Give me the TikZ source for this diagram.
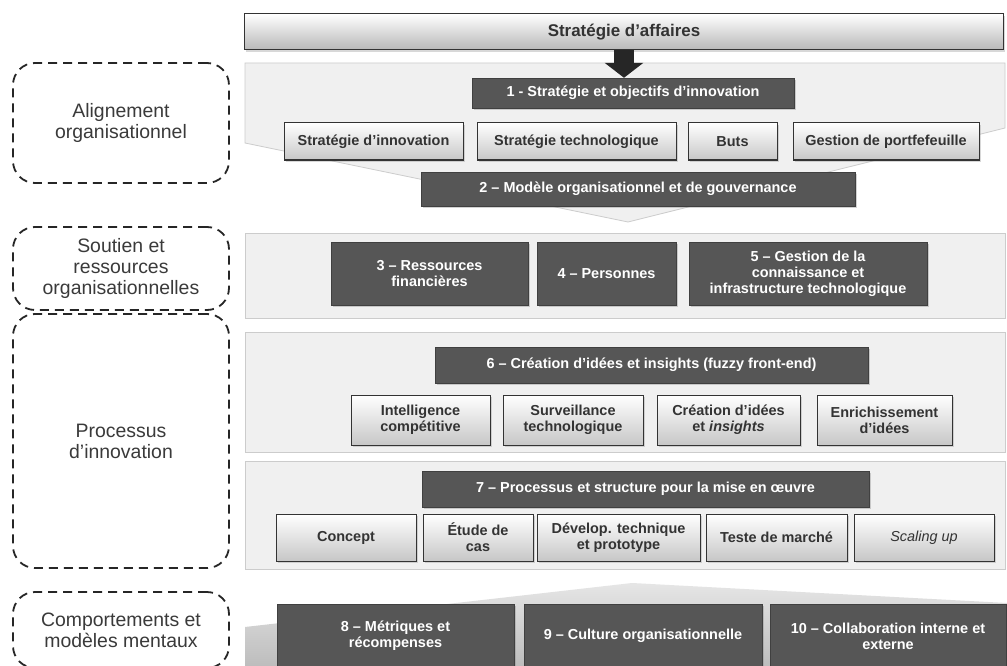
\documentclass[tikz,border=0pt]{standalone}
\usepackage{fontspec}
\setmainfont{Liberation Sans}
\usepackage{tikz}
\usetikzlibrary{arrows.meta, shadows}

\definecolor{darkbox}{HTML}{565656}
\definecolor{panelbg}{HTML}{F0F0F0}
\definecolor{labeltxt}{HTML}{3A3A3A}

\begin{document}
\begin{tikzpicture}[x=1bp, y=-1bp,
  dark/.style={draw=black!75, fill=darkbox, text=white, align=center,
               font=\bfseries\fontsize{14.5}{16}\selectfont, inner sep=2bp,
               drop shadow={opacity=0.35, shadow xshift=1.5bp, shadow yshift=-2bp}},
  light/.style={draw=black!80, line width=1bp, top color=white, bottom color=black!22,
                text=black!80, align=center,
                font=\bfseries\fontsize{14.5}{16}\selectfont, inner sep=2bp,
                drop shadow={opacity=0.3, shadow xshift=1.5bp, shadow yshift=-2bp}},
  band/.style={fill=panelbg, draw=black!20, line width=0.8bp},
  group/.style={draw=black!85, line width=1.8bp, dash pattern=on 9bp off 6bp,
                rounded corners=22bp, align=center, text=labeltxt,
                font=\fontsize{19.5}{21}\selectfont}
]
  \useasboundingbox (0,0) rectangle (1007,666);
  \fill[white] (0,0) rectangle (1007,666);

  \node[group, minimum width=216bp, minimum height=120bp] (galign) at (121,123)
    {Alignement\\organisationnel};
  \node[group, minimum width=216bp, minimum height=83bp] (gsout) at (121,268.5)
    {Soutien et\\ressources\\organisationnelles};
  \node[group, minimum width=216bp, minimum height=254bp] (gproc) at (121,441)
    {Processus\\d’innovation};
  \node[group, minimum width=216bp, minimum height=76bp] (gcomp) at (121,630)
    {Comportements et\\modèles mentaux};

  \path[band] (245,63) -- (1005,63) -- (1005,128) -- (628,222) -- (245,143) -- cycle;
  \path[band] (245,233) rectangle (1005,318);
  \path[band] (245,332) rectangle (1005,452);
  \path[band] (245,461) rectangle (1005,569);
  \shade[top color=black!10, bottom color=black!26]
    (245,627) -- (632,583) -- (1007,603) -- (1007,666) -- (245,666) -- cycle;

  \node[light, minimum width=758bp, minimum height=36bp, bottom color=black!28,
        font=\bfseries\fontsize{17}{19}\selectfont] (biz) at (624,32) {Stratégie d’affaires};

  \node[dark, minimum width=322bp, minimum height=30bp] (obj1) at (633,93)
    {1 - Stratégie et objectifs d’innovation};
  \node[light, minimum width=179bp, minimum height=37bp] (sinno) at (373.5,141.5) {Stratégie d’innovation};
  \node[light, minimum width=199bp, minimum height=37bp] (stech) at (576.5,141.5) {Stratégie technologique};
  \node[light, minimum width=89bp, minimum height=37bp] (buts) at (732.5,141.5) {Buts};
  \node[light, minimum width=186bp, minimum height=37bp] (gport) at (886,141.5) {Gestion de portfefeuille};
  \node[dark, minimum width=434bp, minimum height=34bp] (gov2) at (638,189)
    {2 – Modèle organisationnel et de gouvernance};

  \node[dark, minimum width=197bp, minimum height=63bp] (fin3) at (429.5,273.5)
    {3 – Ressources\\financières};
  \node[dark, minimum width=139bp, minimum height=63bp] (pers4) at (606.5,273.5) {4 – Personnes};
  \node[dark, minimum width=238bp, minimum height=63bp] (know5) at (808,273.5)
    {5 – Gestion de la\\connaissance et\\infrastructure technologique};

  \node[dark, minimum width=433bp, minimum height=36bp] (idea6) at (651.5,365)
    {6 – Création d’idées et insights (fuzzy front-end)};
  \node[light, minimum width=139bp, minimum height=50bp] (ic) at (420.5,420) {Intelligence\\compétitive};
  \node[light, minimum width=140bp, minimum height=50bp] (sv) at (573,420) {Surveillance\\technologique};
  \node[light, minimum width=143bp, minimum height=50bp] (ci) at (728.5,420)
    {Création d’idées\\et \textit{insights}};
  \node[light, minimum width=135bp, minimum height=50bp] (ei) at (884.5,420) {Enrichissement\\d’idées};

  \node[dark, minimum width=447bp, minimum height=36bp] (impl7) at (645.5,489)
    {7 – Processus et structure pour la mise en œuvre};
  \node[light, minimum width=140bp, minimum height=47bp] (conc) at (346,537.5) {Concept};
  \node[light, minimum width=110bp, minimum height=47bp] (etude) at (478,537.5) {Étude de\\cas};
  \node[light, minimum width=163bp, minimum height=47bp] (dev) at (618.5,537.5)
    {Dévelop. technique\\et prototype};
  \node[light, minimum width=141bp, minimum height=47bp] (teste) at (776.5,537.5) {Teste de marché};
  \node[light, minimum width=140bp, minimum height=47bp] (scale) at (924,537.5)
    {\mdseries\itshape Scaling up};

  \node[dark, minimum width=237bp, minimum height=64bp] (metr8) at (395.5,636)
    {8 – Métriques et\\récompenses};
  \node[dark, minimum width=238bp, minimum height=64bp] (cult9) at (643,636)
    {9 – Culture organisationnelle};
  \node[dark, minimum width=236bp, minimum height=64bp] (coll10) at (888,636)
    {10 – Collaboration interne et\\externe};

  \draw[line width=20bp, black!85, -{Triangle[width=38bp, length=15bp]}]
    (biz.south) -- (biz.south |- obj1.north);
\end{tikzpicture}
\end{document}
